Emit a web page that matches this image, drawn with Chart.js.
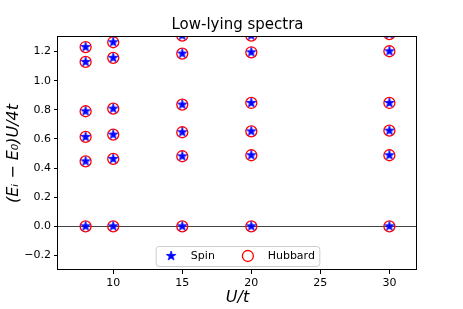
<!DOCTYPE html>
<html>
<head>
<meta charset="utf-8">
<script src="https://cdn.jsdelivr.net/npm/chart.js@4.4.1/dist/chart.umd.min.js"></script>
<style>
    html, body { margin: 0; padding: 0; background: #fff; }
</style>
</head>
<body>
<canvas id="spectraChart" width="463" height="309"></canvas>
<script>
// Low-lying spectra, spin model vs Hubbard model
const uValues = [8, 10, 15, 20, 30];
const level0 = [0, 0, 0, 0, 0];
const level1 = [0.446, 0.463, 0.481, 0.488, 0.488];
const level2 = [0.614, 0.630, 0.646, 0.652, 0.657];
const level3 = [0.790, 0.808, 0.836, 0.847, 0.847];
const level4 = [1.129, 1.157, 1.186, 1.195, 1.202];
const level5 = [1.231, 1.264, 1.310, 1.310, 1.320];
const level6 = [1.355, null, null, null, null];
const xTicks = [10, 15, 20, 25, 30];
const yTicks = [-0.2, 0, 0.2, 0.4, 0.6, 0.8, 1.0, 1.2];

const FONT = '"DejaVu Sans", sans-serif';

function toPoints(levels) {
    const pts = [];
    levels.forEach(level => {
        level.forEach((y, i) => {
            if (y !== null) pts.push({ x: uValues[i], y: y });
        });
    });
    return pts;
}
const allLevels = [level0, level1, level2, level3, level4, level5, level6];

// filled star like matplotlib's '*'
function makeStar(R, color) {
    const size = Math.ceil(R * 2) + 2;
    const c = document.createElement('canvas');
    c.width = size; c.height = size;
    const g = c.getContext('2d');
    const cx = size / 2, cy = size / 2;
    const r = R * 0.381966;
    g.beginPath();
    for (let k = 0; k < 10; k++) {
        const ang = -Math.PI / 2 + k * Math.PI / 5;
        const rad = k % 2 === 0 ? R : r;
        g.lineTo(cx + rad * Math.cos(ang), cy + rad * Math.sin(ang));
    }
    g.closePath();
    g.fillStyle = color;
    g.fill();
    g.strokeStyle = color;
    g.lineWidth = 0.8;
    g.stroke();
    return c;
}
const starImg = makeStar(5, '#0000ff');

// axes frame + matplotlib style legend inside the plot
const frameAndLegend = {
    id: 'frameAndLegend',
    afterDraw(chart) {
        const { ctx, chartArea: a } = chart;
        ctx.save();
        ctx.strokeStyle = '#000';
        ctx.lineWidth = 1;
        ctx.strokeRect(a.left - 0.5, a.top - 0.5, a.right - a.left, a.bottom - a.top);

        const fs = 11;
        ctx.font = fs + 'px ' + FONT;
        const pad = 0.4 * fs, handle = 2 * fs, textPad = 0.8 * fs, colSp = 2 * fs;
        const labels = chart.data.datasets.map(d => d.label);
        const widths = labels.map(l => ctx.measureText(l).width);
        let boxW = 2 * pad + labels.length * (handle + textPad) + colSp * (labels.length - 1);
        widths.forEach(w => boxW += w);
        const boxH = 20;
        const x0 = (a.left + a.right) / 2 - boxW / 2;
        const y0 = a.bottom - 4 - boxH;

        ctx.beginPath();
        ctx.roundRect(x0 + 0.5, y0 + 0.5, boxW, boxH, 3);
        ctx.fillStyle = 'rgba(255,255,255,0.8)';
        ctx.fill();
        ctx.strokeStyle = '#cccccc';
        ctx.stroke();

        const cy = y0 + boxH / 2;
        let x = x0 + pad;
        labels.forEach((label, i) => {
            const mx = x + handle / 2;
            if (i === 0) {
                ctx.drawImage(starImg, mx - starImg.width / 2, cy - starImg.height / 2);
            } else {
                ctx.beginPath();
                ctx.arc(mx, cy, 5.5, 0, Math.PI * 2);
                ctx.strokeStyle = '#ff0000';
                ctx.lineWidth = 1.3;
                ctx.stroke();
            }
            ctx.fillStyle = '#000';
            ctx.textBaseline = 'middle';
            ctx.textAlign = 'left';
            ctx.fillText(label, x + handle + textPad, cy);
            x += handle + textPad + widths[i] + colSp;
        });
        ctx.restore();
    }
};

const ctx = document.getElementById('spectraChart').getContext('2d');
new Chart(ctx, {
    type: 'scatter',
    data: {
        datasets: [{
            label: 'Spin',
            data: toPoints(allLevels),
            pointStyle: starImg,
            pointRadius: 5,
            borderColor: '#0000ff',
            backgroundColor: '#0000ff'
        }, {
            label: 'Hubbard',
            data: toPoints(allLevels),
            pointStyle: 'circle',
            pointRadius: 5.5,
            borderWidth: 1.3,
            borderColor: '#ff0000',
            backgroundColor: 'rgba(0,0,0,0)'
        }]
    },
    options: {
        responsive: false,
        animation: false,
        layout: { padding: { top: 0, right: 46, bottom: 0, left: 0 } },
        plugins: {
            legend: { display: false },
            tooltip: { enabled: false },
            title: {
                display: true,
                fullSize: false,
                text: 'Low-lying spectra',
                color: '#000',
                font: { family: FONT, size: 15, weight: 'normal' },
                padding: { top: 16, bottom: 3 }
            }
        },
        scales: {
            x: {
                type: 'linear',
                min: 6,
                max: 32,
                afterBuildTicks: s => { s.ticks = xTicks.map(v => ({ value: v })); },
                afterFit: s => { s.height = 39; },
                border: { display: false },
                grid: { drawOnChartArea: false, tickLength: 4, tickColor: '#000', color: '#000' },
                ticks: { color: '#000', padding: 3, maxRotation: 0, font: { family: FONT, size: 11 } },
                title: {
                    display: true,
                    text: 'U/t',
                    color: '#000',
                    font: { family: FONT, size: 16, style: 'italic' },
                    padding: { top: 0, bottom: 2 }
                }
            },
            y: {
                min: -0.3,
                max: 1.3,
                afterBuildTicks: s => { s.ticks = yTicks.map(v => ({ value: v })); },
                afterFit: s => { s.width = 58; },
                border: { display: false },
                grid: {
                    color: c => (c.tick && c.tick.value === 0) ? '#444' : 'rgba(0,0,0,0)',
                    tickColor: '#000',
                    tickLength: 4
                },
                ticks: {
                    color: '#000',
                    padding: 3,
                    font: { family: FONT, size: 11 },
                    callback: v => v.toFixed(1).replace('-', '\u2212')
                },
                title: {
                    display: true,
                    text: '(E\u1D62 \u2212 E\u2080)U/4t',
                    color: '#000',
                    font: { family: FONT, size: 16, style: 'italic' },
                    padding: { top: 4, bottom: 0 }
                }
            }
        }
    },
    plugins: [frameAndLegend]
});
</script>
</body>
</html>
